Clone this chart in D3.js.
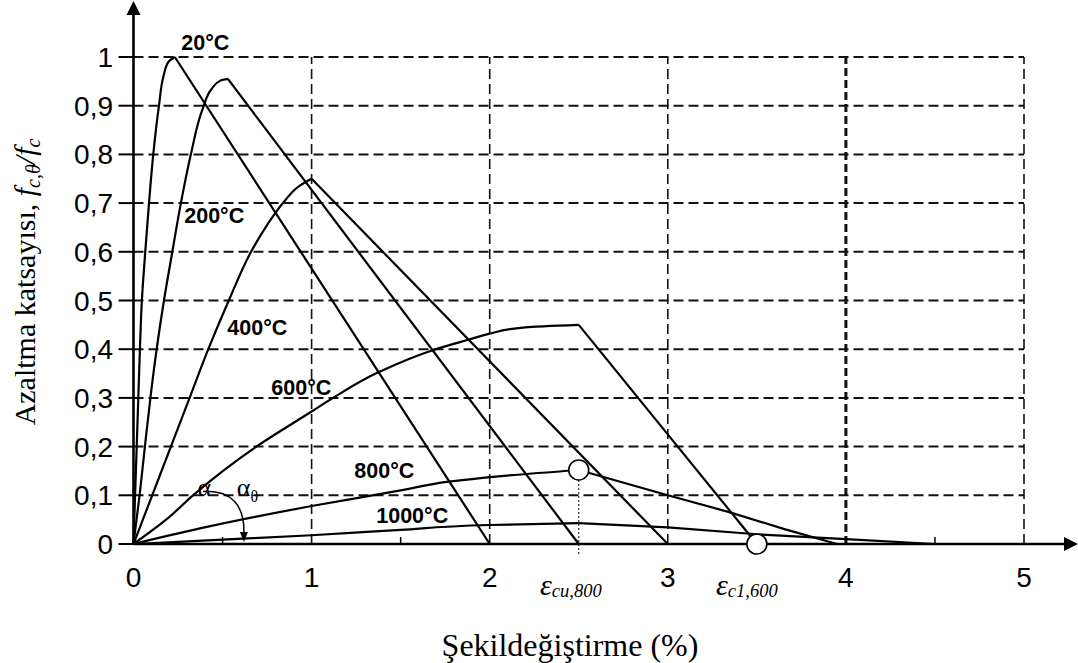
<!DOCTYPE html>
<html>
<head>
<meta charset="utf-8">
<script src="https://cdn.jsdelivr.net/npm/d3@7"></script>
<style>
  html, body { margin: 0; padding: 0; background: #fff; }
  svg { display: block; }
</style>
</head>
<body>
<svg id="chart" width="1078" height="663"></svg>
<script>
// ---- data: strain (%) vs. strength reduction factor fc,θ/fc ----
const xTicks = [0, 1, 2, 3, 4, 5];
const xTickLabels = ["0", "1", "2", "3", "4", "5"];
const xMinorTicks = [0.5, 1.5, 4.5];
const yTicks = [0, 0.1, 0.2, 0.3, 0.4, 0.5, 0.6, 0.7, 0.8, 0.9, 1];
const yTickLabels = ["0", "0,1", "0,2", "0,3", "0,4", "0,5", "0,6", "0,7", "0,8", "0,9", "1"];

// ascending branches (up to the peak)
const rise20   = [[0,0],[0.009,0.1],[0.018,0.2],[0.027,0.3],[0.036,0.4],[0.047,0.5],[0.066,0.6],[0.087,0.7],[0.111,0.8],[0.143,0.9],[0.168,0.96],[0.196,0.99],[0.232,1.0]];
const rise200  = [[0,0],[0.034,0.1],[0.064,0.2],[0.095,0.3],[0.13,0.4],[0.171,0.5],[0.218,0.6],[0.266,0.7],[0.322,0.8],[0.39,0.895],[0.44,0.935],[0.49,0.952],[0.53,0.955]];
const rise400  = [[0,0],[0.105,0.1],[0.21,0.2],[0.315,0.3],[0.42,0.4],[0.535,0.5],[0.66,0.6],[0.75,0.655],[0.85,0.705],[0.93,0.735],[1.0,0.75]];
const rise600  = [[0,0],[0.19,0.052],[0.334,0.1],[0.69,0.2],[1.0,0.272],[1.12,0.3],[1.383,0.354],[1.68,0.398],[1.885,0.42],[2.0,0.432],[2.2,0.445],[2.5,0.45]];
const rise800  = [[0,0],[0.373,0.032],[1.0,0.078],[1.5,0.11],[1.77,0.128],[2.05,0.139],[2.5,0.152]];
const rise1000 = [[0,0],[0.5,0.009],[1.0,0.018],[1.5,0.029],[2.0,0.039],[2.5,0.043]];

// descending branches (from the peak to failure strain)
const fall20   = [[0.232,1.0],[2.0,0]];
const fall200  = [[0.53,0.955],[2.5,0]];
const fall400  = [[1.0,0.75],[3.0,0]];
const fall600  = [[2.5,0.45],[3.5,0]];
const fall800  = [[2.5,0.152],[3.0,0.1],[3.34,0.066],[3.66,0.03],[3.95,0]];
const fall1000 = [[2.5,0.043],[3.0,0.034],[3.5,0.02],[4.0,0.01],[4.5,0]];

const temperatures = ["20°C", "200°C", "400°C", "600°C", "800°C", "1000°C"];
const risingBranches = [rise20, rise200, rise400, rise600, rise800, rise1000];
const fallingBranches = [fall20, fall200, fall400, fall600, fall800, fall1000];
// label anchors (strain, factor) at the start of each temperature label
const labelStrain = [0.268, 0.285, 0.527, 0.774, 1.24, 1.363];
const labelFactor = [1.014, 0.659, 0.429, 0.306, 0.1355, 0.043];

// marked points: peak of 800°C curve, ultimate strain of 600°C curve
const markerPoints = [[2.5, 0.152], [3.5, 0]];

// ---- layout ----
const svg = d3.select("#chart");
const x = d3.scaleLinear().domain([0, 5]).range([133.5, 1024]);
const y = d3.scaleLinear().domain([0, 1]).range([544, 57]);

const sans = "'Liberation Sans', Arial, Helvetica, sans-serif";
const serif = "'Liberation Serif', 'Times New Roman', Times, serif";

// ---- grid ----
const grid = svg.append("g");
grid.selectAll("line.h")
  .data(yTicks.filter(d => d > 0))
  .join("line")
  .attr("x1", x(0)).attr("x2", x(5))
  .attr("y1", d => y(d)).attr("y2", d => y(d))
  .attr("stroke", "#111").attr("stroke-width", 2)
  .attr("stroke-dasharray", "10,5");

grid.selectAll("line.v")
  .data(xTicks.filter(d => d > 0))
  .join("line")
  .attr("x1", d => x(d)).attr("x2", d => x(d))
  .attr("y1", y(0)).attr("y2", y(1))
  .attr("stroke", "#111")
  .attr("stroke-width", d => d === 4 ? 3 : 1.6)
  .attr("stroke-dasharray", d => d === 4 ? "8,4" : "10,5");

// dotted drop line below the 800°C peak
grid.append("line")
  .attr("x1", x(markerPoints[0][0])).attr("x2", x(markerPoints[0][0]))
  .attr("y1", y(markerPoints[0][1]) + 10).attr("y2", y(0) + 11)
  .attr("stroke", "#333").attr("stroke-width", 1.2)
  .attr("stroke-dasharray", "2,2");

// ---- curves ----
const smooth = d3.line().x(d => x(d[0])).y(d => y(d[1])).curve(d3.curveMonotoneY);
const straight = d3.line().x(d => x(d[0])).y(d => y(d[1]));

const curves = svg.append("g").attr("fill", "none").attr("stroke", "#000")
  .attr("stroke-width", 2.2).attr("stroke-linejoin", "round");
risingBranches.forEach(r => curves.append("path").attr("d", smooth(r)));
fallingBranches.forEach(f => curves.append("path").attr("d", straight(f)));

// ---- axes ----
const axes = svg.append("g");
// y tick marks
axes.selectAll("line.yt")
  .data(yTicks)
  .join("line")
  .attr("x1", x(0) - 15).attr("x2", x(0))
  .attr("y1", d => y(d)).attr("y2", d => y(d))
  .attr("stroke", "#000").attr("stroke-width", 2);
// minor x ticks
axes.selectAll("line.xt")
  .data(xMinorTicks)
  .join("line")
  .attr("x1", d => x(d)).attr("x2", d => x(d))
  .attr("y1", y(0)).attr("y2", y(0) - 7)
  .attr("stroke", "#000").attr("stroke-width", 1.5);

axes.append("line")
  .attr("x1", x(0)).attr("x2", 1068).attr("y1", y(0)).attr("y2", y(0))
  .attr("stroke", "#000").attr("stroke-width", 2.6);
axes.append("line")
  .attr("x1", x(0)).attr("x2", x(0)).attr("y1", y(0)).attr("y2", 12)
  .attr("stroke", "#000").attr("stroke-width", 2.6);
axes.append("path")
  .attr("d", `M1078,${y(0)} L1064,${y(0) - 7} L1064,${y(0) + 7} Z`).attr("fill", "#000");
axes.append("path")
  .attr("d", `M${x(0)},1 L${x(0) - 7},15 L${x(0) + 7},15 Z`).attr("fill", "#000");

// tick labels
axes.selectAll("text.yl")
  .data(yTicks)
  .join("text")
  .attr("x", 113).attr("y", d => y(d))
  .attr("dy", "0.36em")
  .attr("text-anchor", "end")
  .attr("font-family", sans).attr("font-size", 28)
  .text((d, i) => yTickLabels[i]);
axes.selectAll("text.xl")
  .data(xTicks)
  .join("text")
  .attr("x", d => x(d)).attr("y", 587)
  .attr("text-anchor", "middle")
  .attr("font-family", sans).attr("font-size", 28)
  .text((d, i) => xTickLabels[i]);

// ---- temperature labels ----
svg.append("g").selectAll("text")
  .data(temperatures)
  .join("text")
  .attr("x", (d, i) => x(labelStrain[i]))
  .attr("y", (d, i) => y(labelFactor[i]))
  .attr("font-family", sans).attr("font-weight", "bold").attr("font-size", 21.5)
  .text(d => d);

// ---- marker circles ----
svg.append("g").selectAll("circle")
  .data(markerPoints)
  .join("circle")
  .attr("cx", d => x(d[0])).attr("cy", d => y(d[1]))
  .attr("r", 10)
  .attr("fill", "#fff").attr("stroke", "#000").attr("stroke-width", 1.6);

// ---- initial modulus angle annotation ----
const arcStart = [0.39, 0.108];
const arcEnd = [0.62, 0.006];
const ann = svg.append("g");
ann.append("path")
  .attr("d", `M${x(arcStart[0])},${y(arcStart[1])} Q${x(arcEnd[0]) + 2},${y(arcStart[1]) - 2} ${x(arcEnd[0])},${y(arcEnd[1]) - 5}`)
  .attr("fill", "none").attr("stroke", "#000").attr("stroke-width", 1.5);
ann.append("path")
  .attr("d", `M${x(arcEnd[0])},${y(arcEnd[1]) + 1} L${x(arcEnd[0]) - 4},${y(arcEnd[1]) - 9} L${x(arcEnd[0]) + 4},${y(arcEnd[1]) - 9} Z`)
  .attr("fill", "#000");
ann.append("text")
  .attr("x", x(0.36)).attr("y", y(0.098))
  .attr("font-family", serif).attr("font-size", 26)
  .text("α");
const at = ann.append("text")
  .attr("x", x(0.58)).attr("y", y(0.098))
  .attr("font-family", serif).attr("font-size", 26);
at.append("tspan").text("α");
at.append("tspan").attr("dy", 6).attr("font-size", 16).text("θ");

// ---- strain annotations ----
function strainLabel(px, main, sub) {
  const t = svg.append("text").attr("x", px).attr("y", 595)
    .attr("font-family", serif).attr("font-style", "italic").attr("font-size", 30);
  t.append("tspan").text(main);
  t.append("tspan").attr("dy", 2).attr("font-size", 18.5).text(sub);
}
strainLabel(540, "ε", "cu,800");
strainLabel(716, "ε", "c1,600");

// ---- axis titles ----
svg.append("text")
  .attr("x", 570).attr("y", 656)
  .attr("text-anchor", "middle")
  .attr("font-family", serif).attr("font-size", 32)
  .text("Şekildeğiştirme (%)");

const yt = svg.append("text")
  .attr("transform", "translate(35,282) rotate(-90)")
  .attr("text-anchor", "middle")
  .attr("font-family", serif).attr("font-size", 30);
yt.append("tspan").text("Azaltma katsayısı, ");
yt.append("tspan").attr("font-style", "italic").text("f");
yt.append("tspan").attr("font-style", "italic").attr("font-size", 20).attr("dy", 5).text("c,θ");
yt.append("tspan").attr("font-style", "italic").attr("dy", -5).text("/f");
yt.append("tspan").attr("font-style", "italic").attr("font-size", 20).attr("dy", 5).text("c");
</script>
</body>
</html>
